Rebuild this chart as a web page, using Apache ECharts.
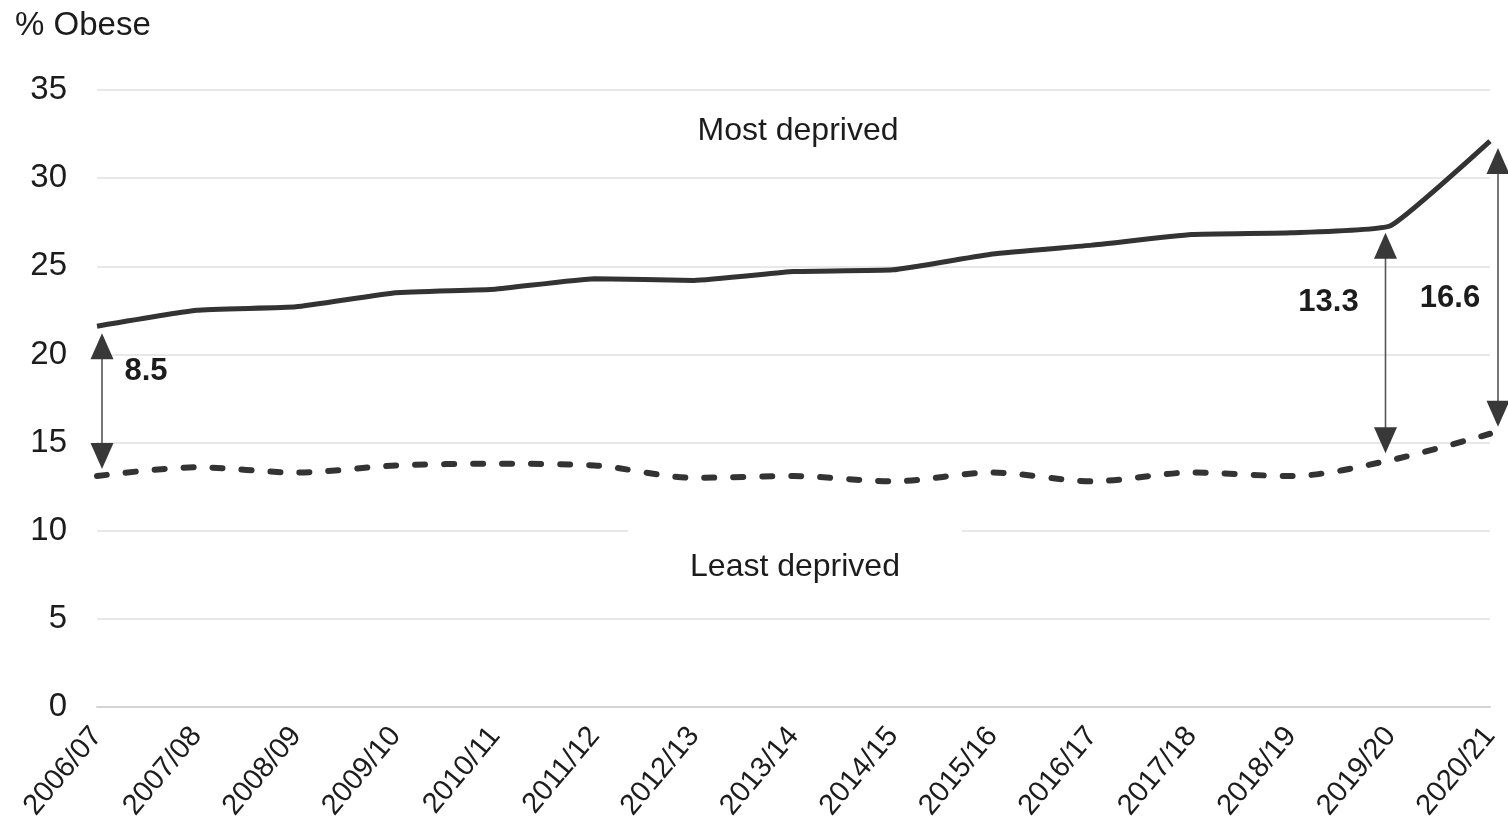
<!DOCTYPE html>
<html>
<head>
<meta charset="utf-8">
<title>% Obese by deprivation</title>
<script src="https://cdn.jsdelivr.net/npm/echarts@6/dist/echarts.min.js"></script>
<style>
  html, body { margin: 0; padding: 0; background: #ffffff; }
  #chart { width: 1508px; height: 837px; }
</style>
</head>
<body>
<div id="chart"></div>
<script>
// School years
const years = ['2006/07', '2007/08', '2008/09', '2009/10', '2010/11', '2011/12', '2012/13',
  '2013/14', '2014/15', '2015/16', '2016/17', '2017/18', '2018/19', '2019/20', '2020/21'];

// % obese, most deprived decile
const mostDeprived = [21.6, 22.5, 22.7, 23.5, 23.7, 24.3, 24.2, 24.7, 24.8, 25.7, 26.2, 26.8, 26.9, 27.3, 32.1];

// % obese, least deprived decile
const leastDeprived = [13.1, 13.6, 13.3, 13.7, 13.8, 13.7, 13.0, 13.1, 12.8, 13.3, 12.8, 13.3, 13.1, 14.0, 15.5];

// Years where the gap between the two groups is marked, and the gap sizes
const gapYears = ['2006/07', '2019/20', '2020/21'];
const gapValues = ['8.5', '13.3', '16.6'];

// Y axis ticks
const yTicks = [0, 5, 10, 15, 20, 25, 30, 35];

// ---- drawing ----
const FONT = '"Liberation Sans", Arial, Helvetica, sans-serif';
const INK = '#1c1c1c';
const LINE = '#333333';

// per-arrow placement tweaks (pixels): shaft shift, label shift, label drop below top tip
const arrowShift = [5, -5, 8];
const labelShift = [44, -57, -48];
const labelDrop = [38, 70, 150];

const gapData = gapYears.map((y, i) => {
  const idx = years.indexOf(y);
  return [idx, mostDeprived[idx], leastDeprived[idx], gapValues[i]];
});

const chart = echarts.init(document.getElementById('chart'), null, { renderer: 'canvas' });

function renderGap(params, api) {
  const i = params.dataIndex;
  const idx = api.value(0);
  const top = api.coord([idx, api.value(1)]);
  const bot = api.coord([idx, api.value(2)]);
  const x = top[0] + arrowShift[i];
  const inset = 7;
  const yT = top[1] + inset;
  const yB = bot[1] - inset;
  const w = 23, h = 26;
  return {
    type: 'group',
    children: [
      {
        type: 'line',
        shape: { x1: x, y1: yT + 4, x2: x, y2: yB - 4 },
        style: { stroke: '#555555', lineWidth: 1.6 }
      },
      {
        type: 'polygon',
        shape: { points: [[x, yT], [x - w / 2, yT + h], [x + w / 2, yT + h]] },
        style: { fill: '#383838' }
      },
      {
        type: 'polygon',
        shape: { points: [[x, yB], [x - w / 2, yB - h], [x + w / 2, yB - h]] },
        style: { fill: '#383838' }
      },
      {
        type: 'text',
        x: x + labelShift[i],
        y: yT + labelDrop[i],
        style: {
          text: gapData[i][3],
          font: 'bold 31px ' + FONT,
          fill: INK,
          align: 'center',
          verticalAlign: 'middle'
        }
      }
    ]
  };
}

const option = {
  backgroundColor: '#ffffff',
  animation: false,
  grid: { left: 97, right: 18, top: 90, bottom: 130, containLabel: false },
  xAxis: {
    type: 'category',
    data: years,
    boundaryGap: false,
    axisLine: { show: true, lineStyle: { color: '#d4d4d4', width: 2 } },
    axisTick: { show: false },
    splitLine: { show: false },
    axisLabel: {
      rotate: 50,
      margin: 24,
      fontSize: 29,
      fontFamily: FONT,
      color: INK,
      interval: 0
    }
  },
  yAxis: {
    type: 'value',
    min: yTicks[0],
    max: yTicks[yTicks.length - 1],
    interval: yTicks[1] - yTicks[0],
    axisLine: { show: false },
    axisTick: { show: false },
    splitLine: { show: true, lineStyle: { color: '#e8e8e8', width: 2 } },
    axisLabel: {
      fontSize: 33,
      fontFamily: FONT,
      color: INK,
      margin: 30
    }
  },
  series: [
    {
      name: 'Most deprived',
      type: 'line',
      data: mostDeprived,
      smooth: 0.12,
      symbol: 'none',
      lineStyle: { color: LINE, width: 5 },
      z: 3
    },
    {
      name: 'Least deprived',
      type: 'line',
      data: leastDeprived,
      smooth: 0.3,
      symbol: 'none',
      lineStyle: { color: LINE, width: 6, type: [10, 19], cap: 'round' },
      z: 3
    },
    {
      name: 'Gap',
      type: 'custom',
      data: gapData,
      renderItem: renderGap,
      encode: { x: 0, y: [1, 2] },
      clip: false,
      z: 4
    }
  ],
  graphic: [
    {
      type: 'text',
      left: 15,
      top: 9,
      style: { text: '% Obese', font: '33px ' + FONT, fill: INK }
    },
    {
      type: 'text',
      x: 798,
      y: 131,
      style: { text: 'Most deprived', font: '32px ' + FONT, fill: INK, align: 'center', verticalAlign: 'middle' }
    },
    {
      type: 'text',
      x: 795,
      y: 567,
      z: 10,
      style: {
        text: 'Least deprived',
        font: '32px ' + FONT,
        fill: INK,
        align: 'center',
        verticalAlign: 'middle',
        backgroundColor: '#ffffff',
        padding: [26, 62, 40, 62]
      }
    }
  ]
};

chart.setOption(option);
</script>
</body>
</html>
